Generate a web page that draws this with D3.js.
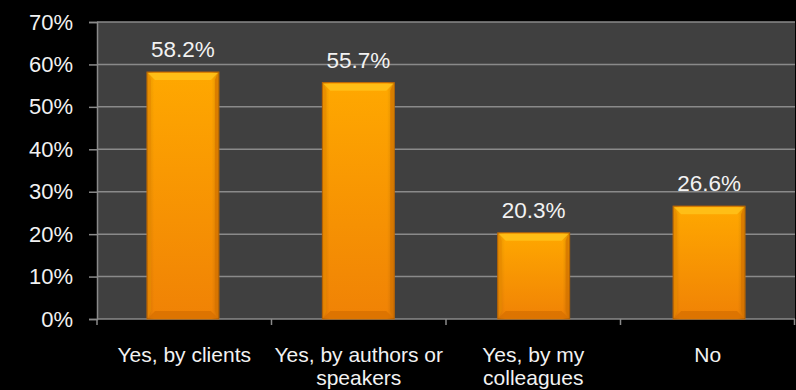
<!DOCTYPE html>
<html><head><meta charset="utf-8">
<script src="https://cdn.jsdelivr.net/npm/d3@7/dist/d3.min.js"></script>
<style>html,body{margin:0;padding:0;background:#000;}svg{display:block;}</style>
</head><body><svg id="c" width="796" height="390"></svg>
<script>
const categories = ["Yes, by clients", "Yes, by authors or speakers", "Yes, by my colleagues", "No"];
const categoryLines = [["Yes, by clients"], ["Yes, by authors or", "speakers"], ["Yes, by my", "colleagues"], ["No"]];
const values = [58.2, 55.7, 20.3, 26.6];
const yTicks = [0, 10, 20, 30, 40, 50, 60, 70];

const W = 796, H = 390;
const m = {left: 97, right: 1, top: 22, bottom: 71};
const svg = d3.select("#c");
svg.append("rect").attr("width", W).attr("height", H).attr("fill", "#000");

const x = d3.scaleBand().domain(categories).range([m.left, W - m.right]).paddingInner(0.59).paddingOuter(0.285);
const xOuter = d3.scaleBand().domain(categories).range([m.left, W - m.right]);
const y = d3.scaleLinear().domain([0, 70]).range([H - m.bottom, m.top]);

const defs = svg.append("defs");
const g1 = defs.append("linearGradient").attr("id", "barG").attr("x1", 0).attr("y1", 0).attr("x2", 0).attr("y2", 1);
g1.append("stop").attr("offset", "0%").attr("stop-color", "#ffa800");
g1.append("stop").attr("offset", "100%").attr("stop-color", "#f08205");
const g2 = defs.append("linearGradient").attr("id", "sideG").attr("x1", 0).attr("y1", 0).attr("x2", 1).attr("y2", 0);
g2.append("stop").attr("offset", "0%").attr("stop-color", "#000").attr("stop-opacity", 0.12);
g2.append("stop").attr("offset", "10%").attr("stop-color", "#000").attr("stop-opacity", 0);
g2.append("stop").attr("offset", "90%").attr("stop-color", "#000").attr("stop-opacity", 0);
g2.append("stop").attr("offset", "100%").attr("stop-color", "#000").attr("stop-opacity", 0.15);

// plot background
svg.append("rect").attr("x", m.left).attr("y", y(70)).attr("width", W - m.right - m.left).attr("height", y(0) - y(70)).attr("fill", "#404040");

// gridlines
svg.append("g").selectAll("line").data(yTicks.filter(d => d > 0)).join("line")
  .attr("x1", m.left).attr("x2", W - m.right).attr("y1", d => y(d)).attr("y2", d => y(d))
  .attr("stroke", "#8a8a8a").attr("stroke-width", 1.5);

// y axis
const yAxis = svg.append("g").attr("transform", `translate(${m.left},0)`)
  .call(d3.axisLeft(y).tickValues(yTicks).tickFormat(d => d + "%").tickSize(8).tickPadding(16));
yAxis.select(".domain").attr("stroke", "#8a8a8a").attr("stroke-width", 1.5);
yAxis.selectAll(".tick line").attr("stroke", "#8a8a8a").attr("stroke-width", 1.5);
yAxis.selectAll("text").attr("fill", "#f2f2f2").attr("font-family", "Liberation Sans, Arial, sans-serif").attr("font-size", 22);

// x axis
const xa = svg.append("g").attr("transform", `translate(0,${y(0)})`);
xa.append("line").attr("x1", m.left).attr("x2", W - m.right).attr("stroke", "#8a8a8a").attr("stroke-width", 1.5);
const bounds = categories.map(c => xOuter(c)).concat([W - m.right - 0.5]);
xa.selectAll("line.t").data(bounds).join("line").attr("class", "t")
  .attr("x1", d => d).attr("x2", d => d).attr("y1", 0).attr("y2", 6)
  .attr("stroke", "#8a8a8a").attr("stroke-width", 1.5);
const cl = xa.selectAll("text").data(categories).join("text")
  .attr("x", d => xOuter(d) + xOuter.bandwidth() / 2).attr("y", 43)
  .attr("text-anchor", "middle").attr("fill", "#f2f2f2")
  .attr("font-family", "Liberation Sans, Arial, sans-serif").attr("font-size", 21);
cl.each(function(d, i) {
  d3.select(this).selectAll("tspan").data(categoryLines[i]).join("tspan")
    .attr("x", xOuter(d) + xOuter.bandwidth() / 2).attr("dy", (t, j) => j === 0 ? 0 : 23).text(t => t);
});

// bars
const bars = svg.append("g").selectAll("g").data(values).join("g");
const bx = (d, i) => x(categories[i]);
const bw = x.bandwidth();
const bev = 8;
bars.append("rect").attr("x", bx).attr("y", d => y(d)).attr("width", bw).attr("height", d => y(0) - y(d))
  .attr("fill", "url(#barG)").attr("stroke", "#c86a00").attr("stroke-width", 1);
bars.append("rect").attr("x", bx).attr("y", d => y(d)).attr("width", bw).attr("height", d => y(0) - y(d))
  .attr("fill", "url(#sideG)");
// top bevel
bars.append("polygon").attr("points", (d, i) => {
  const x0 = bx(d, i), y0 = y(d);
  return [[x0 + 1, y0 + 1], [x0 + bw - 1, y0 + 1], [x0 + bw - bev, y0 + bev], [x0 + bev, y0 + bev]].join(" ");
}).attr("fill", "#ffc21a").attr("opacity", 0.85);
// bottom bevel
bars.append("polygon").attr("points", (d, i) => {
  const x0 = bx(d, i), y1 = y(0);
  return [[x0 + 1, y1 - 1], [x0 + bw - 1, y1 - 1], [x0 + bw - bev, y1 - bev], [x0 + bev, y1 - bev]].join(" ");
}).attr("fill", "#d87000").attr("opacity", 0.8);
// side bevels
bars.append("polygon").attr("points", (d, i) => {
  const x0 = bx(d, i), y0 = y(d), y1 = y(0);
  return [[x0 + 1, y0 + 1], [x0 + 4, y0 + bev], [x0 + 4, y1 - bev], [x0 + 1, y1 - 1]].join(" ");
}).attr("fill", "#e88a00").attr("opacity", 0.7);
bars.append("polygon").attr("points", (d, i) => {
  const x0 = bx(d, i) + bw, y0 = y(d), y1 = y(0);
  return [[x0 - 1, y0 + 1], [x0 - 4, y0 + bev], [x0 - 4, y1 - bev], [x0 - 1, y1 - 1]].join(" ");
}).attr("fill", "#d67400").attr("opacity", 0.7);

// value labels
svg.append("g").selectAll("text").data(values).join("text")
  .attr("x", (d, i) => x(categories[i]) + bw / 2).attr("y", d => y(d) - 15)
  .attr("text-anchor", "middle").attr("fill", "#f2f2f2")
  .attr("font-family", "Liberation Sans, Arial, sans-serif").attr("font-size", 22.5)
  .text(d => d.toFixed(1) + "%");
</script></body></html>
